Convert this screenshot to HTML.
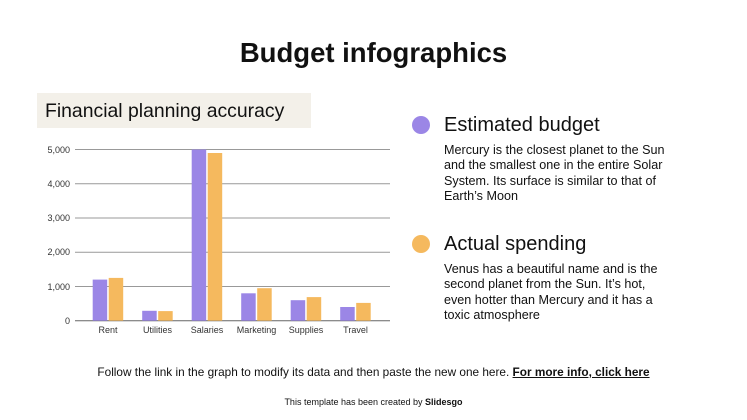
<!DOCTYPE html>
<html><head><style>
body{margin:0;width:747px;height:420px;background:#fff;position:relative;overflow:hidden;font-family:"Liberation Sans",sans-serif;color:#111}
.a{position:absolute;white-space:nowrap}
</style></head><body>
<div class="a" style="left:0;width:747px;top:37px;text-align:center;font-size:27.5px;font-weight:bold;">Budget infographics</div>
<div class="a" style="left:37px;top:93px;width:274px;height:35px;background:#f3f0e9;"></div>
<div class="a" style="left:45px;top:100px;font-size:19.4px;">Financial planning accuracy</div>
<svg class="a" style="left:0;top:0" width="747" height="420">
<g stroke="#999" stroke-width="1">
<line x1="75" x2="390" y1="149.5" y2="149.5"/><line x1="75" x2="390" y1="183.7" y2="183.7"/><line x1="75" x2="390" y1="218" y2="218"/><line x1="75" x2="390" y1="252.2" y2="252.2"/><line x1="75" x2="390" y1="286.5" y2="286.5"/><line x1="75" x2="390" y1="320.7" y2="320.7" stroke="#666"/>
</g>
<g font-size="9" fill="#333" text-anchor="end" font-family="Liberation Sans">
<text x="70" y="153">5,000</text><text x="70" y="187">4,000</text><text x="70" y="221">3,000</text><text x="70" y="255">2,000</text><text x="70" y="290">1,000</text><text x="70" y="324">0</text>
</g>
<g fill="#9b86e6">
<rect x="92.7" y="279.6" width="14.5" height="41.1"/>
<rect x="142.2" y="310.8" width="14.5" height="9.9"/>
<rect x="191.7" y="149.5" width="14.5" height="171.2"/>
<rect x="241.2" y="293.3" width="14.5" height="27.4"/>
<rect x="290.7" y="300.2" width="14.5" height="20.5"/>
<rect x="340.2" y="307" width="14.5" height="13.7"/>
</g>
<g fill="#f5b95e">
<rect x="108.7" y="277.9" width="14.5" height="42.8"/>
<rect x="158.2" y="311.1" width="14.5" height="9.6"/>
<rect x="207.7" y="153" width="14.5" height="167.7"/>
<rect x="257.2" y="288.2" width="14.5" height="32.5"/>
<rect x="306.7" y="297.1" width="14.5" height="23.6"/>
<rect x="356.2" y="302.9" width="14.5" height="17.8"/>
</g>
<g font-size="9" fill="#333" text-anchor="middle" font-family="Liberation Sans">
<text x="108" y="333">Rent</text><text x="157.5" y="333">Utilities</text><text x="207" y="333">Salaries</text><text x="256.5" y="333">Marketing</text><text x="306" y="333">Supplies</text><text x="355.5" y="333">Travel</text>
</g>
<circle cx="421" cy="125" r="9" fill="#9b86e6"/>
<circle cx="421" cy="244" r="9" fill="#f5b95e"/>
</svg>
<div class="a" style="left:444px;top:114px;font-size:20px;">Estimated budget</div>
<div class="a" style="left:444px;top:143px;font-size:12.6px;line-height:15.3px;">Mercury is the closest planet to the Sun<br>and the smallest one in the entire Solar<br>System. Its surface is similar to that of<br>Earth’s Moon</div>
<div class="a" style="left:444px;top:233px;font-size:20px;">Actual spending</div>
<div class="a" style="left:444px;top:262px;font-size:12.6px;line-height:15.3px;">Venus has a beautiful name and is the<br>second planet from the Sun. It’s hot,<br>even hotter than Mercury and it has a<br>toxic atmosphere</div>
<div class="a" style="left:0;width:747px;top:365px;text-align:center;font-size:11.8px;">Follow the link in the graph to modify its data and then paste the new one here. <b><u>For more info, click here</u></b></div>
<div class="a" style="left:0;width:747px;top:397px;text-align:center;font-size:9px;">This template has been created by <b>Slidesgo</b></div>
</body></html>
